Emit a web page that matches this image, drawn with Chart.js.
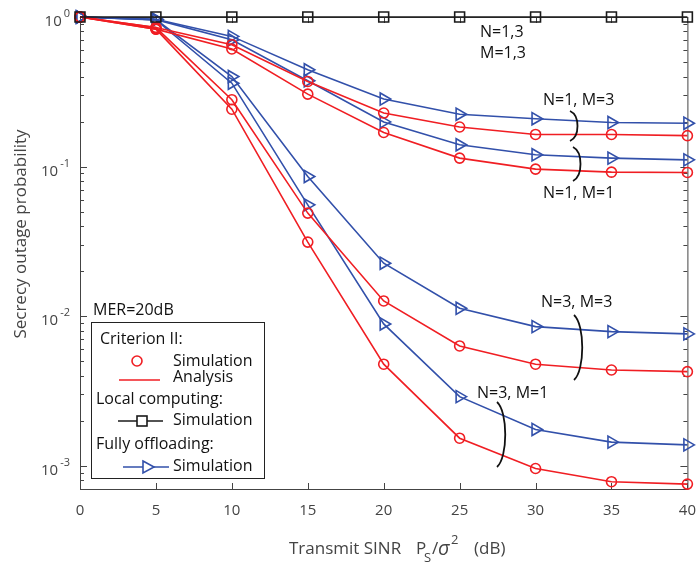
<!DOCTYPE html>
<html>
<head>
<meta charset="utf-8">
<script src="https://cdn.jsdelivr.net/npm/chart.js@4"></script>
<style>
  body { margin: 0; background: #fff; }
  #wrap { width: 696px; height: 565px; }
</style>
</head>
<body>
<div id="wrap"><canvas id="myChart"></canvas></div>
<script>
// x values (dB)
var snr = [0, 5, 10, 15, 20, 25, 30, 35, 40]
// local computing, N=1,3 M=1,3
var localSim = [1, 1, 1, 1, 1, 1, 1, 1, 1]
// Criterion II (red)
var critN1M3 = [1, 0.85, 0.653, 0.371, 0.228, 0.184, 0.164, 0.164, 0.161]
var critN1M1 = [1, 0.83, 0.611, 0.305, 0.169, 0.114, 0.0962, 0.0918, 0.0914]
var critN3M3 = [1, 0.85, 0.28, 0.0489, 0.01265, 0.00633, 0.00478, 0.00437, 0.00426]
var critN3M1 = [1, 0.83, 0.242, 0.0313, 0.00478, 0.00153, 0.00096, 0.000783, 0.000755]
// Fully offloading (blue)
var offN1M3 = [1, 0.965, 0.742, 0.444, 0.283, 0.224, 0.209, 0.197, 0.195]
var offN1M1 = [1, 0.96, 0.705, 0.375, 0.199, 0.140, 0.120, 0.114, 0.111]
var offN3M3 = [1, 0.96, 0.40, 0.0859, 0.0226, 0.0113, 0.00852, 0.00789, 0.00762]
var offN3M1 = [1, 0.955, 0.361, 0.0555, 0.00888, 0.0029, 0.00175, 0.00144, 0.00138]
// ticks
var xTicks = [0, 5, 10, 15, 20, 25, 30, 35, 40]
var yDecades = [1e-3, 1e-2, 1e-1, 1]
var yExponents = ['-3', '-2', '-1', '0']

var RED = 'rgb(240,30,35)'
var BLUE = 'rgb(50,80,170)'
var BLACK = '#1a1a1a'
var FONT = '"Open Sans", sans-serif'

function pts(vals) {
    return snr.map(function (x, i) { return { x: x, y: vals[i] } })
}
function redSet(vals) {
    return { data: pts(vals), borderColor: RED, borderWidth: 1.6, pointStyle: 'circle', pointRadius: 5,
        pointBorderWidth: 1.6, pointBackgroundColor: 'transparent', pointBorderColor: RED, clip: false }
}
function blueSet(vals) {
    return { data: pts(vals), borderColor: BLUE, borderWidth: 1.6, pointStyle: 'triangle', pointRotation: 90,
        pointRadius: 7, pointBorderWidth: 1.6, pointBackgroundColor: 'transparent', pointBorderColor: BLUE, clip: false }
}

function bracket(ctx, x, y1, y2, bulge) {
    ctx.beginPath()
    ctx.moveTo(x - 2, y1)
    ctx.bezierCurveTo(x + bulge, y1 + (y2 - y1) * 0.15, x + bulge, y1 + (y2 - y1) * 0.85, x - 2, y2)
    ctx.stroke()
}

function text(ctx, s, x, y, size, align, color) {
    ctx.font = size + 'px ' + FONT
    ctx.textAlign = align || 'left'
    ctx.textBaseline = 'middle'
    ctx.fillStyle = color || '#111'
    ctx.fillText(s, x, y)
}

var framePlugin = {
    id: 'frame',
    beforeDatasetsDraw: function (chart) {
        var ctx = chart.ctx, a = chart.chartArea
        var xs = chart.scales.x, ys = chart.scales.y
        ctx.save()
        ctx.strokeStyle = '#444'
        ctx.lineWidth = 1
        ctx.strokeRect(a.left + 0.5, a.top + 0.5, a.right - a.left, a.bottom - a.top)
        // x ticks
        ctx.beginPath()
        xTicks.forEach(function (v) {
            var px = Math.round(xs.getPixelForValue(v)) + 0.5
            ctx.moveTo(px, a.bottom); ctx.lineTo(px, a.bottom - 6)
            ctx.moveTo(px, a.top); ctx.lineTo(px, a.top + 6)
        })
        // y ticks, major and minor
        for (var e = -4; e <= 0; e++) {
            for (var m = 1; m <= 9; m++) {
                var v = m * Math.pow(10, e)
                if (v < ys.min || v > ys.max * 1.0001) continue
                var py = Math.round(ys.getPixelForValue(v)) + 0.5
                var len = m == 1 ? 7 : 4
                ctx.moveTo(a.left, py); ctx.lineTo(a.left + len, py)
                ctx.moveTo(a.right, py); ctx.lineTo(a.right - len, py)
            }
        }
        ctx.stroke()
        // tick labels
        xTicks.forEach(function (v) {
            text(ctx, String(v), xs.getPixelForValue(v), a.bottom + 22, 15, 'center', '#444')
        })
        yDecades.forEach(function (v, i) {
            var py = ys.getPixelForValue(v)
            ctx.font = '11px ' + FONT
            var w = ctx.measureText(yExponents[i]).width
            text(ctx, yExponents[i], a.left - 10, py - 3, 11, 'right', '#444')
            text(ctx, '10', a.left - 12 - w, py + 5, 15, 'right', '#444')
        })
        // y title
        ctx.save()
        ctx.translate(21, 234)
        ctx.rotate(-Math.PI / 2)
        text(ctx, 'Secrecy outage probability', 0, 0, 17, 'center', '#444')
        ctx.restore()
        // x title: Transmit SINR P_S/sigma^2 (dB), pieces placed like the tex layout
        var base = 549
        text(ctx, 'Transmit SINR', 289, base, 17, 'left', '#444')
        text(ctx, 'P', 416, base, 17, 'left', '#444')
        text(ctx, 'S', 424, base + 9, 13, 'left', '#444')
        text(ctx, '/', 432, base, 17, 'left', '#444')
        text(ctx, 'σ', 438, base, 'italic 20', 'left', '#444')
        text(ctx, '2', 451, base - 9, 13, 'left', '#444')
        text(ctx, '(dB)', 474, base, 17, 'left', '#444')
        ctx.restore()
    },
    afterDatasetsDraw: function (chart) {
        var ctx = chart.ctx
        ctx.save()
        // annotations
        text(ctx, 'N=1,3', 480, 32, 16)
        text(ctx, 'M=1,3', 480, 53, 16)
        text(ctx, 'N=1, M=3', 543, 100, 16)
        text(ctx, 'N=1, M=1', 543, 193, 16)
        text(ctx, 'N=3, M=3', 541, 302, 16)
        text(ctx, 'N=3, M=1', 477, 393, 16)
        text(ctx, 'MER=20dB', 93, 310, 16)
        ctx.strokeStyle = '#111'
        ctx.lineWidth = 1.8
        bracket(ctx, 572, 111, 141, 8)
        bracket(ctx, 575, 147, 181, 8)
        bracket(ctx, 576, 315, 380, 9)
        bracket(ctx, 499, 402, 467, 9)
        // legend box
        ctx.fillStyle = '#fff'
        ctx.fillRect(91, 322, 174, 156)
        ctx.strokeStyle = '#222'
        ctx.lineWidth = 1
        ctx.strokeRect(91.5, 322.5, 173, 156)
        text(ctx, 'Criterion II:', 100, 339, 16)
        ctx.lineWidth = 1.6
        ctx.strokeStyle = RED
        ctx.beginPath(); ctx.arc(137, 361, 5, 0, Math.PI * 2); ctx.stroke()
        text(ctx, 'Simulation', 173, 361, 16)
        ctx.beginPath(); ctx.moveTo(119, 380); ctx.lineTo(160, 380); ctx.stroke()
        text(ctx, 'Analysis', 173, 377, 16)
        text(ctx, 'Local computing:', 96, 399, 16)
        ctx.strokeStyle = BLACK
        ctx.beginPath(); ctx.moveTo(118, 421); ctx.lineTo(163, 421); ctx.stroke()
        ctx.fillStyle = '#fff'
        ctx.fillRect(137, 416, 10, 10)
        ctx.strokeRect(137, 416, 10, 10)
        text(ctx, 'Simulation', 173, 420, 16)
        text(ctx, 'Fully offloading:', 96, 444, 16)
        ctx.strokeStyle = BLUE
        ctx.beginPath(); ctx.moveTo(123, 467); ctx.lineTo(169, 467); ctx.stroke()
        ctx.beginPath(); ctx.moveTo(143, 461); ctx.lineTo(154, 467); ctx.lineTo(143, 473); ctx.closePath()
        ctx.fillStyle = '#fff'; ctx.fill(); ctx.stroke()
        text(ctx, 'Simulation', 173, 466, 16)
        ctx.restore()
    }
}

new Chart(document.getElementById('myChart'), {
    type: 'line',
    data: {
        datasets: [
            { data: pts(localSim), borderColor: BLACK, borderWidth: 1.6, pointStyle: 'rect', pointRadius: 7,
              pointBorderWidth: 1.6, pointBackgroundColor: 'transparent', pointBorderColor: BLACK, clip: false },
            redSet(critN1M3), redSet(critN1M1), redSet(critN3M3), redSet(critN3M1),
            blueSet(offN1M3), blueSet(offN1M1), blueSet(offN3M3), blueSet(offN3M1)
        ]
    },
    options: {
        responsive: true,
        maintainAspectRatio: false,
        animation: false,
        layout: { padding: { left: 80, right: 7, top: 17, bottom: 76 } },
        plugins: { legend: { display: false }, tooltip: { enabled: false } },
        scales: {
            x: { type: 'linear', min: 0, max: 40, display: false },
            y: { type: 'logarithmic', min: 7e-4, max: 1, display: false }
        }
    },
    plugins: [framePlugin]
});
</script>
</body>
</html>
